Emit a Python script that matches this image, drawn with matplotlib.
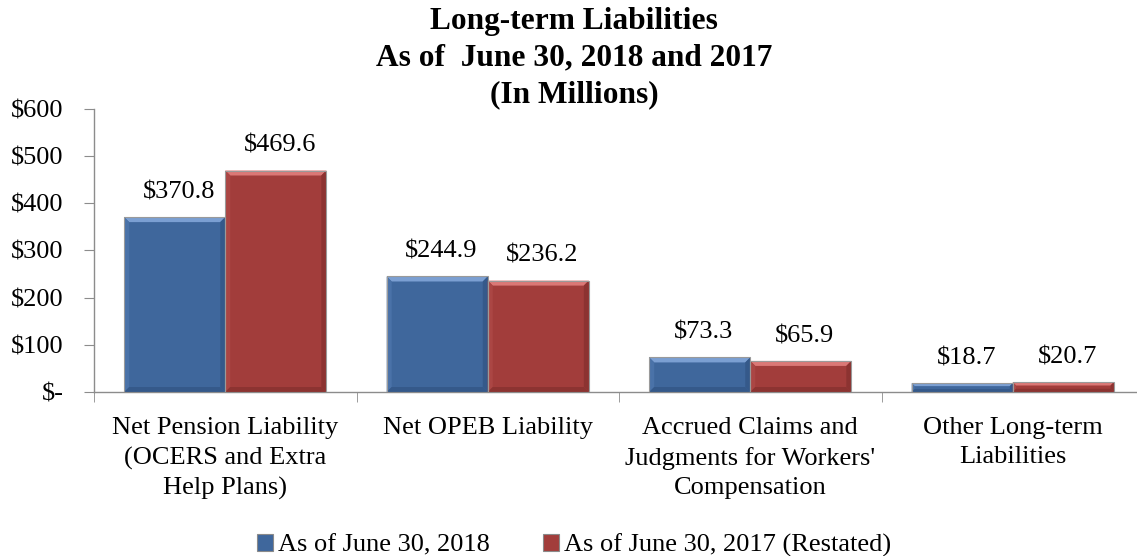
import matplotlib
matplotlib.use("Agg")
import matplotlib.pyplot as plt
from matplotlib.patches import Polygon, Patch
import numpy as np

# chart data
categories = ["Net Pension Liability\n(OCERS and Extra\nHelp Plans)",
              "Net OPEB Liability",
              "Accrued Claims and\nJudgments for Workers'\nCompensation",
              "Other Long-term\nLiabilities"]
series_names = ["As of June 30, 2018", "As of June 30, 2017 (Restated)"]
values_2018 = [370.8, 244.9, 73.3, 18.7]
values_2017 = [469.6, 236.2, 65.9, 20.7]
y_ticks = [0, 100, 200, 300, 400, 500, 600]
y_tick_labels = ["$-", "$100", "$200", "$300", "$400", "$500", "$600"]

plt.rcParams['font.family'] = ['Liberation Serif', 'DejaVu Serif']

blue = dict(main="#3f679c", light="#7b9fd2", side="#4a72a8", dark="#35598a")
red = dict(main="#a23d3b", light="#db7876", side="#ab4644", dark="#8c3331")


def bevel_bar(ax, x0, x1, top, c):
    # draw a bar with a simple bevel, computed in pixels then mapped back to data
    to_px = ax.transData
    to_data = ax.transData.inverted()
    (px0, py0), (px1, py1) = to_px.transform([(x0, 0), (x1, top)])
    b = min(5.0, (py1 - py0) / 3.0)

    def poly(pts, color, z):
        d = to_data.transform(pts)
        ax.add_patch(Polygon(d, closed=True, facecolor=color, edgecolor="none", zorder=z))

    poly([(px0, py0), (px1, py0), (px1, py1), (px0, py1)], c["main"], 2)
    poly([(px0, py1), (px1, py1), (px1 - b, py1 - b), (px0 + b, py1 - b)], c["light"], 3)
    poly([(px0, py0), (px0 + b, py0 + b), (px0 + b, py1 - b), (px0, py1)], c["side"], 3)
    poly([(px1, py0), (px1 - b, py0 + b), (px1 - b, py1 - b), (px1, py1)], c["dark"], 3)
    poly([(px0, py0), (px1, py0), (px1 - b, py0 + b), (px0 + b, py0 + b)], c["dark"], 3)
    outline = to_data.transform([(px0, py0), (px1, py0), (px1, py1), (px0, py1)])
    ax.add_patch(Polygon(outline, closed=True, facecolor="none",
                         edgecolor="#9a9a9a", linewidth=0.8, zorder=4))


fig = plt.figure(figsize=(11.37, 5.56), dpi=100)
ax = fig.add_axes([94 / 1137, 164 / 556, 1050 / 1137, 283 / 556])
ax.set_xlim(-0.5, len(categories) - 0.5)
ax.set_ylim(0, 600)

x = np.arange(len(categories))
w = 0.385
for i in range(len(categories)):
    for vals, c, off in ((values_2018, blue, -w), (values_2017, red, 0.0)):
        bevel_bar(ax, x[i] + off, x[i] + off + w, vals[i], c)
        ax.annotate("$%.1f" % vals[i], (x[i] + off + w / 2, vals[i]),
                    xytext=(3, 10), textcoords="offset points",
                    ha="center", va="bottom", fontsize=19)

for s in ("top", "right"):
    ax.spines[s].set_visible(False)
for s in ("left", "bottom"):
    ax.spines[s].set_color("#8c8c8c")
    ax.spines[s].set_linewidth(1.0)

ax.set_yticks(y_ticks)
ax.set_yticklabels(y_tick_labels, fontsize=19)
ax.tick_params(axis="y", length=7, color="#8c8c8c", pad=15)

ax.set_xticks(x)
ax.set_xticklabels(categories, fontsize=19, linespacing=1.43, va="top")
ax.tick_params(axis="x", which="major", length=0, pad=18)
ax.set_xticks(np.arange(len(categories) + 1) - 0.5, minor=True)
ax.tick_params(axis="x", which="minor", length=7, color="#8c8c8c")

fig.text(0.505, 0.988, "Long-term Liabilities\nAs of  June 30, 2018 and 2017\n(In Millions)",
         ha="center", va="top", fontsize=22.6, fontweight="bold", linespacing=1.35)

handles = [Patch(facecolor=blue["main"], edgecolor="#8a8a8a", linewidth=0.8),
           Patch(facecolor=red["main"], edgecolor="#8a8a8a", linewidth=0.8)]
fig.legend(handles, series_names, loc="lower center", bbox_to_anchor=(0.505, -0.045),
           ncol=2, frameon=False, fontsize=19, handlelength=0.6, handleheight=0.6,
           handletextpad=0.2, columnspacing=2.0)

fig.savefig("out.png", dpi=100)
